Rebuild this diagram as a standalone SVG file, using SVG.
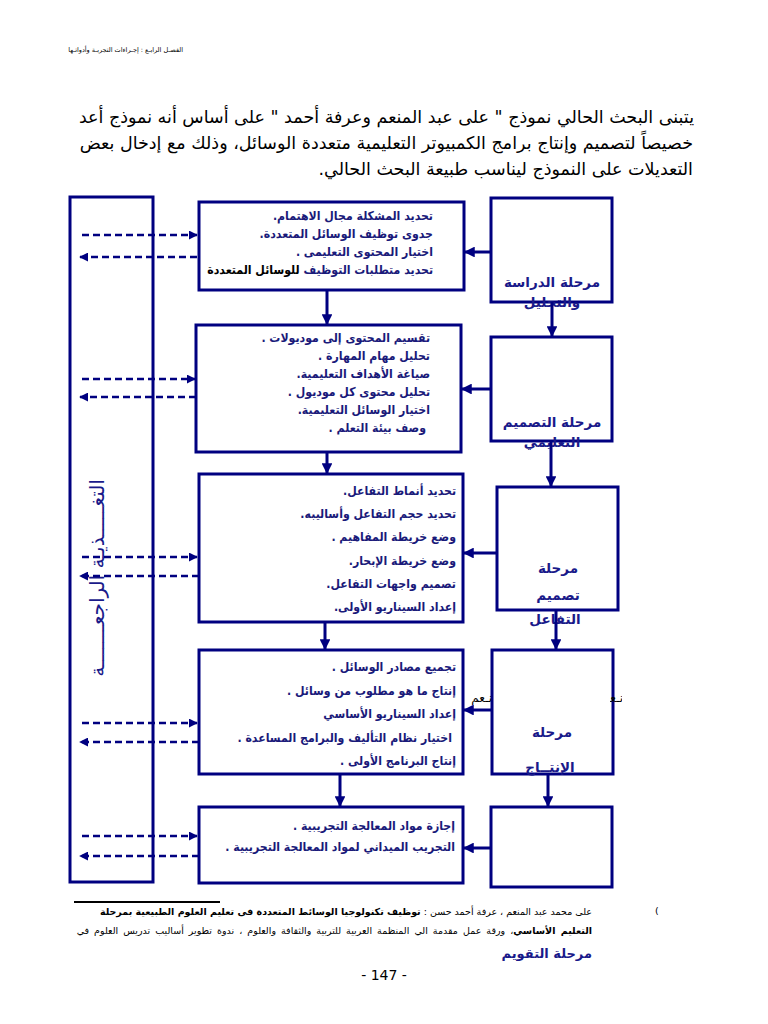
<svg xmlns="http://www.w3.org/2000/svg" width="768" height="1024" viewBox="0 0 768 1024">
<defs>
<style>
.bx{fill:none;stroke:#000080;stroke-width:3}
.ar{fill:none;stroke:#000080;stroke-width:3}
.da{fill:none;stroke:#000080;stroke-width:2.5;stroke-dasharray:7,4}
.t{font-family:"DejaVu Sans Condensed","DejaVu Sans",sans-serif;font-weight:bold;font-size:12.2px;fill:#1a1a7a}
.st{font-family:"DejaVu Sans",sans-serif;font-weight:bold;font-size:13.5px;fill:#1a1a8a}
.p{font-family:"DejaVu Sans",sans-serif;font-size:17.5px;fill:#000}
.fn{font-family:"DejaVu Sans",sans-serif;font-size:9.5px;fill:#000}
</style>
<marker id="ah" viewBox="0 0 10 10" refX="9" refY="5" markerWidth="3.6" markerHeight="3.6" orient="auto" markerUnits="strokeWidth">
<path d="M0,0 L10,5 L0,10 z" fill="#000080"/>
</marker>
<marker id="ad" viewBox="0 0 10 10" refX="9" refY="5" markerWidth="3.6" markerHeight="3.6" orient="auto" markerUnits="strokeWidth">
<path d="M0,0 L10,5 L0,10 z" fill="#000080"/>
</marker>
<clipPath id="clipR"><rect x="610" y="680" width="12" height="30"/></clipPath>
</defs>
<rect width="768" height="1024" fill="#fff"/>

<text x="183" y="52" direction="rtl" text-anchor="start" class="fn" style="font-size:6.5px">الفصـل الرابـع : إجـراءات التجربـة وأدواتـها</text>

<g id="paragraph">
<text x="694" y="123" direction="rtl" text-anchor="start" class="p">يتبنى البحث الحالي نموذج " على عبد المنعم وعرفة أحمد " على أساس أنه نموذج أعد</text>
<text x="693" y="149" direction="rtl" text-anchor="start" class="p">خصيصاً لتصميم وإنتاج برامج الكمبيوتر التعليمية متعددة الوسائل، وذلك مع إدخال بعض</text>
<text x="693" y="175" direction="rtl" text-anchor="start" class="p">التعديلات على النموذج ليناسب طبيعة البحث الحالي.</text>
</g>

<g id="feedback">
<rect x="70" y="197" width="83" height="685" class="bx"/>
<text transform="translate(104,578) rotate(-90)" text-anchor="middle" direction="rtl" style="font-family:'DejaVu Sans',sans-serif;font-size:20px;fill:#1a1a8a">التغـــــذيـة الراجعـــــــة</text>
</g>

<g id="box1">
<rect x="199" y="202" width="265" height="88" class="bx"/>
<text x="433" y="220" direction="rtl" text-anchor="start" class="t">تحديد المشكلة مجال الاهتمام.</text>
<text x="433" y="238" direction="rtl" text-anchor="start" class="t">جدوى توظيف الوسائل المتعددة.</text>
<text x="433" y="256" direction="rtl" text-anchor="start" class="t">اختيار المحتوى التعليمى .</text>
<text x="433" y="274" direction="rtl" text-anchor="start" class="t">تحديد متطلبات التوظيف <tspan fill="#000">للوسائل المتعددة</tspan></text>
</g>

<g id="box2">
<rect x="196" y="325" width="265" height="127" class="bx"/>
<text x="430" y="342" direction="rtl" text-anchor="start" class="t">تقسيم المحتوى إلى موديولات .</text>
<text x="430" y="360" direction="rtl" text-anchor="start" class="t">تحليل مهام المهارة .</text>
<text x="430" y="378" direction="rtl" text-anchor="start" class="t">صياغة الأهداف التعليمية.</text>
<text x="430" y="396" direction="rtl" text-anchor="start" class="t">تحليل محتوى كل موديول .</text>
<text x="430" y="414" direction="rtl" text-anchor="start" class="t">اختيار الوسائل التعليمية.</text>
<text x="426" y="432" direction="rtl" text-anchor="start" class="t">وصف بيئة التعلم .</text>
</g>

<g id="box3">
<rect x="199" y="474" width="264" height="148" class="bx"/>
<text x="456" y="495" direction="rtl" text-anchor="start" class="t">تحديد أنماط التفاعل.</text>
<text x="456" y="518" direction="rtl" text-anchor="start" class="t">تحديد حجم التفاعل وأساليبه.</text>
<text x="456" y="541" direction="rtl" text-anchor="start" class="t">وضع خريطة المفاهيم .</text>
<text x="456" y="565" direction="rtl" text-anchor="start" class="t">وضع خريطة الإبحار.</text>
<text x="456" y="588" direction="rtl" text-anchor="start" class="t">تصميم واجهات التفاعل.</text>
<text x="456" y="611" direction="rtl" text-anchor="start" class="t">إعداد السيناريو الأولى.</text>
</g>

<g id="box4">
<rect x="199" y="650" width="264" height="124" class="bx"/>
<text x="456" y="671" direction="rtl" text-anchor="start" class="t">تجميع مصادر الوسائل .</text>
<text x="456" y="695" direction="rtl" text-anchor="start" class="t">إنتاج ما هو مطلوب من وسائل .</text>
<text x="456" y="718" direction="rtl" text-anchor="start" class="t">إعداد السيناريو الأساسي</text>
<text x="452" y="742" direction="rtl" text-anchor="start" class="t">اختيار نظام التأليف والبرامج المساعدة .</text>
<text x="456" y="765" direction="rtl" text-anchor="start" class="t">إنتاج البرنامج الأولى .</text>
</g>

<g id="box5">
<rect x="199" y="807" width="264" height="76" class="bx"/>
<text x="455" y="830" direction="rtl" text-anchor="start" class="t">إجازة مواد المعالجة التجريبية .</text>
<text x="455" y="851" direction="rtl" text-anchor="start" class="t">التجريب الميداني لمواد المعالجة التجريبية .</text>
</g>

<g id="stage1">
<rect x="491" y="198" width="121" height="104" class="bx"/>
<text x="552" y="287" text-anchor="middle" class="st">مرحلة الدراسة</text>
<text x="552" y="307" text-anchor="middle" class="st">والتحليل</text>
</g>
<g id="stage2">
<rect x="491" y="337" width="121" height="104" class="bx"/>
<text x="552" y="427" text-anchor="middle" class="st">مرحلة التصميم</text>
<text x="552" y="447" text-anchor="middle" class="st">التعليمي</text>
</g>
<g id="stage3">
<rect x="497" y="487" width="121" height="123" class="bx"/>
<text x="558" y="573" text-anchor="middle" class="st">مرحلة</text>
<text x="558" y="600" text-anchor="middle" class="st">تصميم</text>
<text x="555" y="624" text-anchor="middle" class="st">التفاعل</text>
</g>
<g id="stage4">
<rect x="492" y="650" width="121" height="124" class="bx"/>
<text x="552" y="737" text-anchor="middle" class="st">مرحلة</text>
<text x="550" y="772" text-anchor="middle" class="st">الإنتــاج</text>
<text x="492" y="702" direction="rtl" text-anchor="start" style="font-family:'DejaVu Sans',sans-serif;font-size:12px;fill:#000">نـعم</text>
<text x="623" y="702" direction="rtl" text-anchor="start" clip-path="url(#clipR)" style="font-family:'DejaVu Sans',sans-serif;font-size:12px;fill:#000">نـعم</text>
</g>
<g id="stage5">
<rect x="491" y="807" width="121" height="80" class="bx"/>
</g>

<g id="connectors">
<line x1="552" y1="302" x2="552" y2="336" class="ar" marker-end="url(#ah)"/>
<line x1="551" y1="441" x2="551" y2="486" class="ar" marker-end="url(#ah)"/>
<line x1="556" y1="610" x2="556" y2="649" class="ar" marker-end="url(#ah)"/>
<line x1="548" y1="774" x2="548" y2="806" class="ar" marker-end="url(#ah)"/>
<line x1="327" y1="290" x2="327" y2="324" class="ar" marker-end="url(#ah)"/>
<line x1="327" y1="452" x2="327" y2="473" class="ar" marker-end="url(#ah)"/>
<line x1="325" y1="622" x2="325" y2="649" class="ar" marker-end="url(#ah)"/>
<line x1="340" y1="774" x2="340" y2="806" class="ar" marker-end="url(#ah)"/>
<line x1="491" y1="252" x2="465" y2="252" class="ar" marker-end="url(#ah)"/>
<line x1="491" y1="389" x2="462" y2="389" class="ar" marker-end="url(#ah)"/>
<line x1="497" y1="553" x2="464" y2="553" class="ar" marker-end="url(#ah)"/>
<line x1="492" y1="710" x2="464" y2="710" class="ar" marker-end="url(#ah)"/>
<line x1="491" y1="848" x2="464" y2="848" class="ar" marker-end="url(#ah)"/>
<line x1="82" y1="235" x2="197" y2="235" class="da" marker-end="url(#ad)"/>
<line x1="197" y1="257" x2="80" y2="257" class="da" marker-end="url(#ad)"/>
<line x1="82" y1="379" x2="195" y2="379" class="da" marker-end="url(#ad)"/>
<line x1="196" y1="397" x2="80" y2="397" class="da" marker-end="url(#ad)"/>
<line x1="82" y1="557" x2="197" y2="557" class="da" marker-end="url(#ad)"/>
<line x1="199" y1="576" x2="80" y2="576" class="da" marker-end="url(#ad)"/>
<line x1="82" y1="723" x2="197" y2="723" class="da" marker-end="url(#ad)"/>
<line x1="199" y1="742" x2="80" y2="742" class="da" marker-end="url(#ad)"/>
<line x1="82" y1="836" x2="197" y2="836" class="da" marker-end="url(#ad)"/>
<line x1="199" y1="856" x2="80" y2="856" class="da" marker-end="url(#ad)"/>
</g>

<g id="footnote">
<line x1="74" y1="902" x2="220" y2="902" stroke="#000" stroke-width="2"/>
<text x="655" y="914" class="fn">(</text>
<text x="592" y="915" direction="rtl" text-anchor="start" class="fn">على محمد عبد المنعم ، عرفة أحمد حسن : <tspan font-weight="bold">توظيف تكنولوجيا الوسائط المتعددة فى تعليم العلوم الطبيعية بمرحلة</tspan></text>
<text x="592" y="934" direction="rtl" text-anchor="start" class="fn" word-spacing="2"><tspan font-weight="bold">التعليم الأساسي</tspan>، ورقة عمل مقدمة الي المنظمة العربية للتربية والثقافة والعلوم ، ندوة تطوير أساليب تدريس العلوم في</text>
<text x="592" y="958" direction="rtl" text-anchor="start" class="st" style="font-size:13px">مرحلة التقويم</text>
<text x="384" y="980" text-anchor="middle" style="font-family:'DejaVu Sans',sans-serif;font-size:14px;fill:#000">- 147 -</text>
</g>
</svg>
